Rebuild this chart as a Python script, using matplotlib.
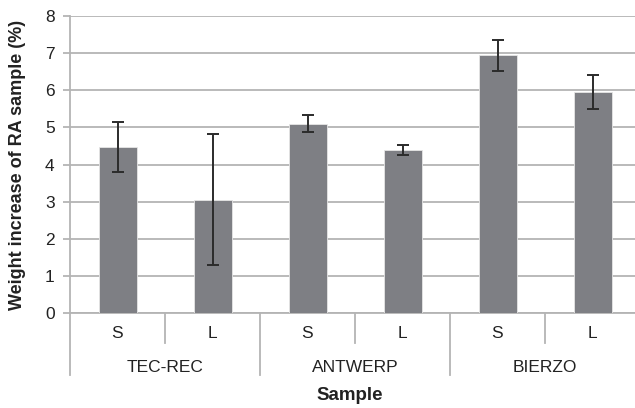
import numpy as np
import matplotlib
matplotlib.use("Agg")
import matplotlib.pyplot as plt
import matplotlib.transforms as mtransforms

plt.rcParams['font.family'] = ['Liberation Sans', 'DejaVu Sans']

# data
groups = ['TEC-REC', 'ANTWERP', 'BIERZO']
sizes = ['S', 'L']
means = [4.48, 3.05, 5.10, 4.39, 6.94, 5.95]
errs = [0.67, 1.76, 0.22, 0.14, 0.42, 0.45]

W, H = 635, 408
fig = plt.figure(figsize=(W / 100, H / 100), dpi=100)
# axes runs a little past the right edge, like the cropped original
ax = fig.add_axes([70 / W, (H - 313) / H, 570 / W, 297 / H])

x = np.arange(len(means))
grid_c = '#b4b4b4'
ax.bar(x, means, width=0.4, color='#7e7f84', edgecolor='#e6e6e6', linewidth=0.6, zorder=3)
ax.errorbar(x, means, yerr=errs, fmt='none', ecolor='#2b2b2b', elinewidth=1.4,
            capsize=4, capthick=1.4, zorder=4)

ax.set_xlim(-0.5, 5.5)
ax.set_ylim(0, 8)
ax.set_yticks(range(0, 9))
ax.yaxis.grid(True, color=grid_c, linewidth=1.3, zorder=0)
ax.set_axisbelow(True)
for s in ['top', 'right']:
    ax.spines[s].set_visible(False)
ax.spines['left'].set_color(grid_c)
ax.spines['bottom'].set_color(grid_c)
ax.spines['left'].set_linewidth(1.3)
ax.spines['bottom'].set_linewidth(1.3)
ax.tick_params(axis='y', colors=grid_c, labelcolor='#222222', labelsize=12.5,
               length=5, width=1.3, pad=6)
ax.set_xticks([])

# two-level category axis below the plot
trans = mtransforms.blended_transform_factory(ax.transData, ax.transAxes)
px = 1 / 297
for i, lab in enumerate([s for g in groups for s in sizes]):
    ax.text(i, -21 * px, lab, transform=trans, ha='center', va='center',
            fontsize=12.5, color='#222222')
for j, g in enumerate(groups):
    ax.text(2 * j + 0.5, -54 * px, g, transform=trans, ha='center', va='center',
            fontsize=12.5, color='#222222')
for xs in [0.5, 2.5, 4.5]:
    ax.plot([xs, xs], [0, -30 * px], transform=trans, color=grid_c, lw=1.3, clip_on=False)
for xs in [-0.5, 1.5, 3.5, 5.5]:
    ax.plot([xs, xs], [0, -62 * px], transform=trans, color=grid_c, lw=1.3, clip_on=False)

fig.text(350 / W, 1 - 396 / H, 'Sample', ha='center', va='center',
         fontsize=13.5, fontweight='bold', color='#222222')
fig.text(18 / W, 1 - 165 / H, 'Weight increase of RA sample (%)', rotation=90,
         ha='center', va='center', fontsize=13, fontweight='bold', color='#222222')

fig.savefig('out.png', dpi=100)
